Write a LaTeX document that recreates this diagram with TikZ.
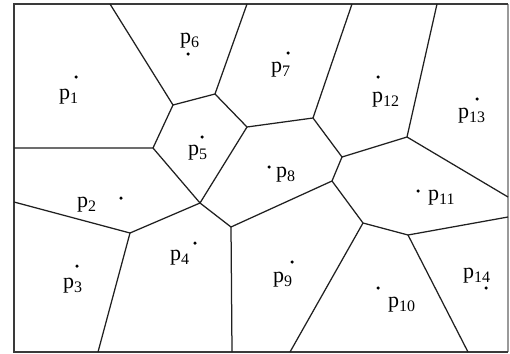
\documentclass[tikz,border=0pt]{standalone}
\usepackage{fontspec}
\setmainfont{Liberation Serif}
\usetikzlibrary{positioning}
\definecolor{edgegray}{HTML}{202020}
\definecolor{framegray}{HTML}{3A3A3A}
\definecolor{sidegray}{HTML}{9A9A9A}

\newcommand{\plab}[1]{p\raisebox{-4pt}{\fontsize{16}{16}\selectfont #1}}

\begin{document}
\begin{tikzpicture}[
  x=1pt, y=-1pt,
  cell/.style={edgegray, line width=1.25pt},
  site/.style={circle, fill=black, inner sep=0pt, minimum size=3.5pt},
  sitename/.style={anchor=base west, inner sep=0pt, font=\fontsize{22}{22}\selectfont},
]

% Background
\useasboundingbox (0,0) rectangle (510,353);
\fill[white] (0,0) rectangle (510,353);

% Frame
\draw[sidegray, line width=1.2pt] (508,4) -- (508,352);
\draw[framegray, line width=1.6pt] (508,4) -- (14,4) -- (14,352) -- (508,352);

% ========================================
% Voronoi vertices
% ========================================
\coordinate (A) at (173,105);
\coordinate (B) at (215,94);
\coordinate (C) at (153,148);
\coordinate (D) at (247,127);
\coordinate (E) at (313,118);
\coordinate (F) at (200,203);
\coordinate (G) at (130,233);
\coordinate (H) at (231,227);
\coordinate (I) at (332,181);
\coordinate (J) at (342,157);
\coordinate (K) at (407,137);
\coordinate (L) at (363,223);
\coordinate (M) at (408,235);

% Points on the frame
\coordinate (t1) at (110,4);
\coordinate (t2) at (247,4);
\coordinate (t3) at (352,4);
\coordinate (t4) at (437,4);
\coordinate (l1) at (14,148);
\coordinate (l2) at (14,202);
\coordinate (b1) at (98,352);
\coordinate (b2) at (232,352);
\coordinate (b3) at (290,352);
\coordinate (b4) at (468,352);
\coordinate (r1) at (508,197);
\coordinate (r2) at (508,217);

% ========================================
% Cell edges
% ========================================
\draw[cell] (t1) -- (A) -- (B) -- (t2);
\draw[cell] (l1) -- (C) -- (A);
\draw[cell] (B) -- (D) -- (E) -- (t3);
\draw[cell] (E) -- (J) -- (K) -- (t4);
\draw[cell] (K) -- (r1);
\draw[cell] (C) -- (F) -- (D);
\draw[cell] (l2) -- (G) -- (F) -- (H) -- (I) -- (J);
\draw[cell] (G) -- (b1);
\draw[cell] (H) -- (b2);
\draw[cell] (I) -- (L) -- (M) -- (r2);
\draw[cell] (L) -- (b3);
\draw[cell] (M) -- (b4);

% ========================================
% Sites
% ========================================
\node[site] (s1) at (76,77) {};
\node[site] (s2) at (121,198) {};
\node[site] (s3) at (77,266) {};
\node[site] (s4) at (195,243) {};
\node[site] (s5) at (202,137) {};
\node[site] (s6) at (188,54) {};
\node[site] (s7) at (288,53) {};
\node[site] (s8) at (269,167) {};
\node[site] (s9) at (292,262) {};
\node[site] (s10) at (378,288) {};
\node[site] (s11) at (418,191) {};
\node[site] (s12) at (378,77) {};
\node[site] (s13) at (477,99) {};
\node[site] (s14) at (486,288) {};

% Labels
\node[sitename] (n1) at (59,99) {\plab{1}};
\node[sitename] (n2) at (77,207) {\plab{2}};
\node[sitename] (n3) at (63,288) {\plab{3}};
\node[sitename] (n4) at (170,260) {\plab{4}};
\node[sitename] (n5) at (188,155) {\plab{5}};
\node[sitename] (n6) at (180,43) {\plab{6}};
\node[sitename] (n7) at (271,72) {\plab{7}};
\node[sitename] (n8) at (276,177) {\plab{8}};
\node[sitename] (n9) at (273,282) {\plab{9}};
\node[sitename] (n10) at (388,307) {\plab{10}};
\node[sitename] (n11) at (428,200) {\plab{11}};
\node[sitename] (n12) at (372,102) {\plab{12}};
\node[sitename] (n13) at (458,118) {\plab{13}};
\node[sitename] (n14) at (463,278) {\plab{14}};

\end{tikzpicture}
\end{document}
